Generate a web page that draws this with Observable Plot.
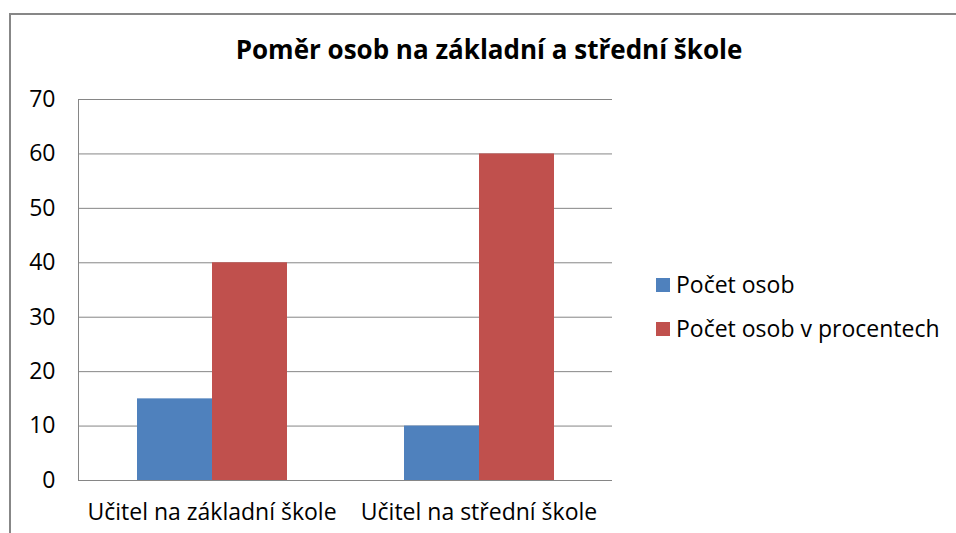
<!DOCTYPE html>
<html><head><meta charset="utf-8">
<script src="https://cdn.jsdelivr.net/npm/d3@7"></script>
<script src="https://cdn.jsdelivr.net/npm/@observablehq/plot@0.6"></script>
<style>
body{margin:0;background:#fff;}
#wrap{position:relative;width:956px;height:533px;overflow:hidden;font-family:"Open Sans",sans-serif;color:#000;}
#border{position:absolute;left:9px;top:13px;width:980px;height:560px;border-left:2px solid #878787;border-top:2px solid #878787;}
#chart{position:absolute;left:0;top:0;}
#title{position:absolute;left:0;width:978px;top:36px;text-align:center;font-weight:bold;font-size:26px;line-height:1;}
.leg{position:absolute;left:656px;font-size:23px;line-height:1;white-space:nowrap;}
.leg span.sw{position:absolute;left:0;top:0;width:14px;height:14px;}
.leg span.tx{position:absolute;left:20px;top:-5px;}
</style></head>
<body><div id="wrap"><div id="border"></div><div id="chart"></div><div id="title"></div><div id="legend"></div></div>
<script>
const titleText = "Poměr osob na základní a střední škole";
const categories = ["Učitel na základní škole", "Učitel na střední škole"];
const series = ["Počet osob", "Počet osob v procentech"];
const pocetOsob = [15, 10];
const pocetProcent = [40, 60];
const yTicks = [0, 10, 20, 30, 40, 50, 60, 70];
const colors = ["#4F81BD", "#C0504D"];

const data = categories.flatMap((c, i) => [
  {category: c, series: series[0], value: pocetOsob[i]},
  {category: c, series: series[1], value: pocetProcent[i]}
]);

document.getElementById("title").textContent = titleText;

const chart = Plot.plot({
  width: 956, height: 533,
  marginLeft: 78, marginRight: 344, marginTop: 99, marginBottom: 53,
  style: {fontFamily: "'Open Sans', sans-serif", fontSize: "23px", color: "#000", background: "transparent", overflow: "visible"},
  fx: {domain: categories, padding: 0, label: null},
  x: {domain: series, paddingInner: 0, paddingOuter: 0.757, axis: null},
  y: {domain: [0, 70], ticks: yTicks, label: null},
  color: {domain: series, range: colors},
  marks: [
    Plot.gridY(yTicks, {stroke: "#868686", strokeOpacity: 1}),
    Plot.frame({anchor: "left", fx: categories[0], stroke: "#868686", strokeOpacity: 1}),
    Plot.barY(data, {fx: "category", x: "series", y: "value", fill: "series"}),
    Plot.axisY(yTicks, {tickSize: 0, tickPadding: 23, fill: "#000", label: null, fontSize: 23}),
    Plot.axisFx({anchor: "bottom", tickSize: 0, tickPadding: 23, label: null, fontSize: 23, fill: "#000"})
  ]
});
document.getElementById("chart").appendChild(chart);

const legend = document.getElementById("legend");
series.forEach((s, i) => {
  const d = document.createElement("div");
  d.className = "leg";
  d.style.top = (278 + i * 44) + "px";
  d.innerHTML = `<span class="sw" style="background:${colors[i]}"></span><span class="tx"></span>`;
  d.querySelector(".tx").textContent = s;
  legend.appendChild(d);
});
</script></body></html>
